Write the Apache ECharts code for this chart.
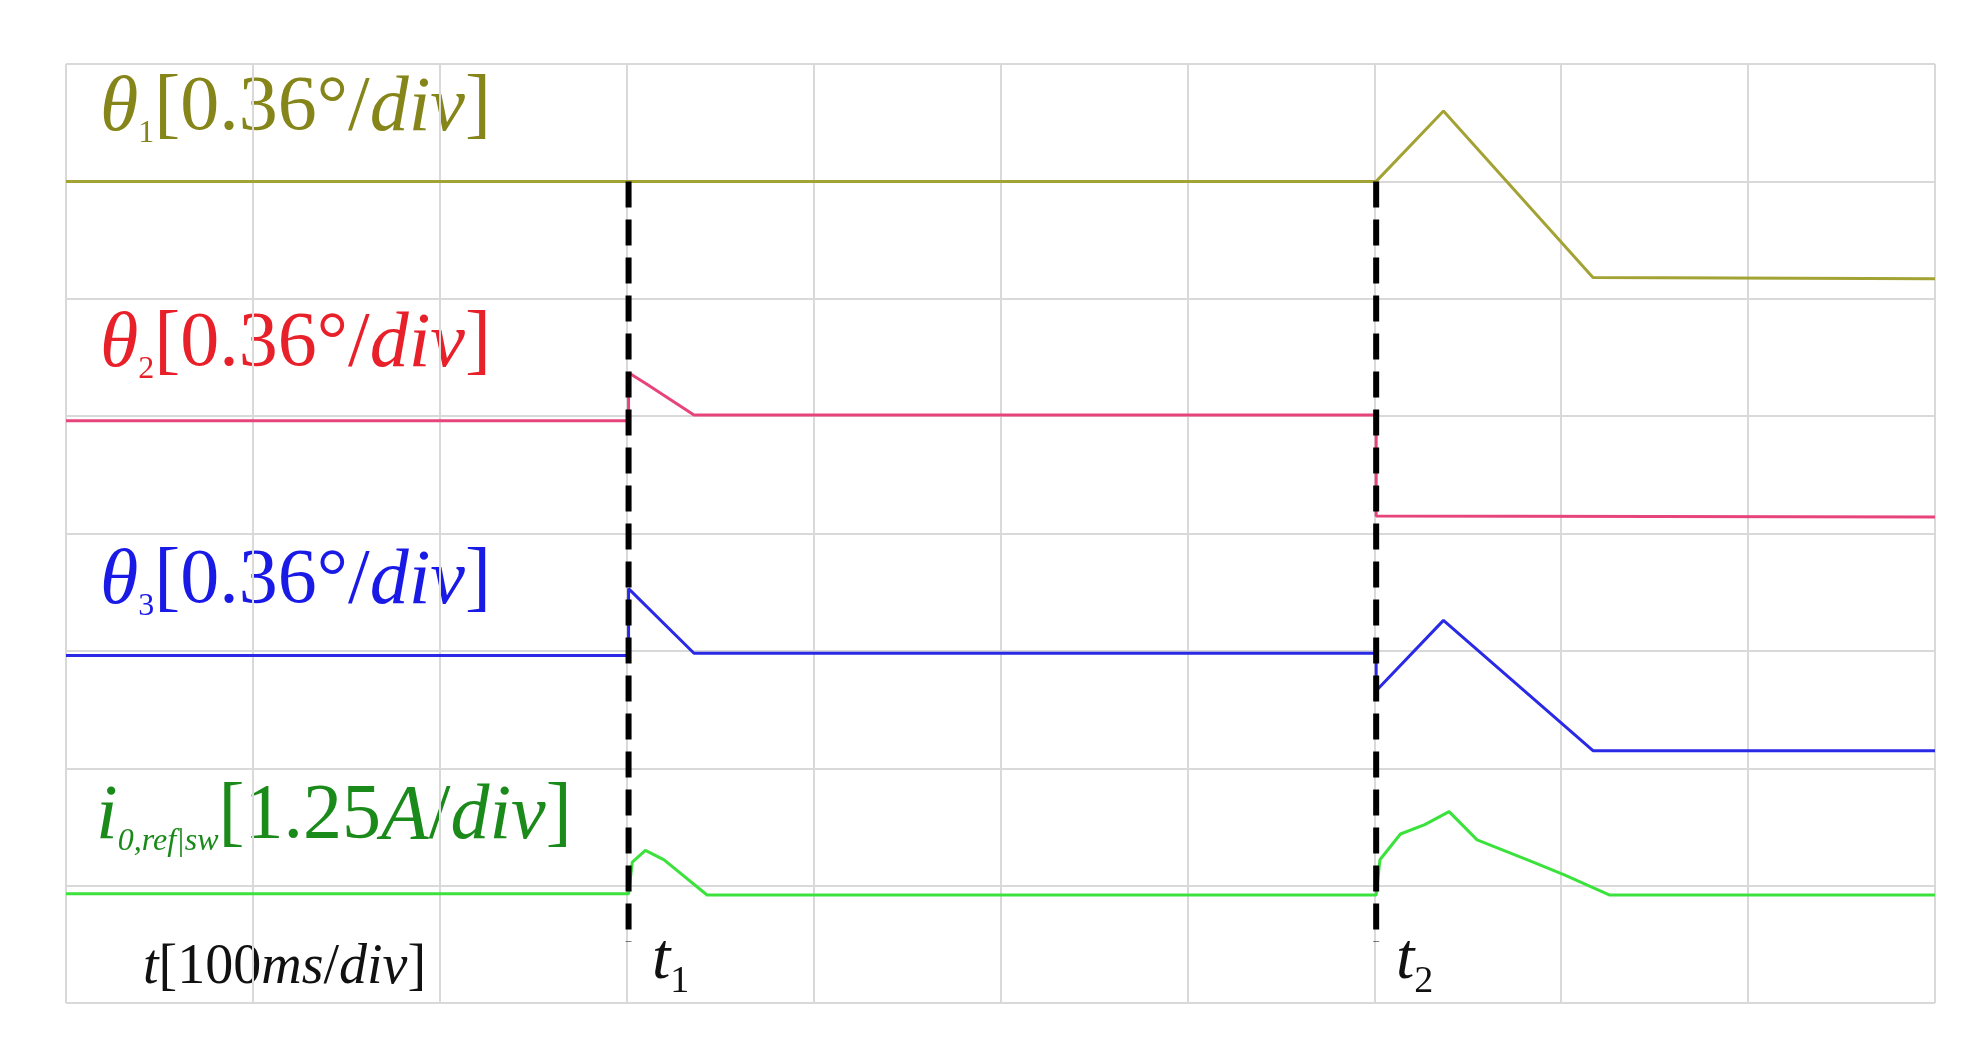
<!DOCTYPE html>
<html>
<head>
<meta charset="utf-8">
<script src="https://cdn.jsdelivr.net/npm/echarts@6/dist/echarts.min.js"></script>
<style>html,body{margin:0;background:#fff}#c{width:1985px;height:1061px}</style>
</head>
<body>
<div id="c"></div>
<script>
// x and y in scope divisions
const t1 = 3.01
const t2 = 7.01
const theta1 = [[0, 7.0], [7.01, 7.0], [7.37, 7.6], [8.17, 6.18], [10, 6.17]]
const theta2 = [[0, 4.96], [3.01, 4.96], [3.01, 5.37], [3.1, 5.28], [3.36, 5.01], [7.01, 5.01], [7.01, 4.15], [10, 4.14]]
const theta3 = [[0, 2.96], [3.01, 2.96], [3.01, 3.53], [3.36, 2.98], [7.01, 2.98], [7.01, 2.66], [7.37, 3.26], [8.17, 2.15], [10, 2.15]]
const current = [[0, 0.93], [3.01, 0.93], [3.03, 1.2], [3.1, 1.3], [3.2, 1.22], [3.43, 0.92], [7.01, 0.92], [7.03, 1.22],
  [7.14, 1.44], [7.27, 1.52], [7.4, 1.63], [7.55, 1.39], [7.82, 1.22], [8.02, 1.09], [8.26, 0.92], [10, 0.92]]

const chart = echarts.init(document.getElementById('c'))
const trace = (data, color) => ({
  type: 'line', data, symbol: 'none', animation: false,
  lineStyle: { color, width: 3 }
})
const marker = t => ({
  type: 'line', data: [[t, 7.0], [t, 0.52]], symbol: 'none', animation: false,
  lineStyle: { color: '#000', width: 6, type: [26, 12] }, z: 5
})
const serif = 'Liberation Serif'
const label = (left, top, parts, color) => ({
  type: 'text', left, top,
  style: {
    text: parts, fill: color, font: '78px ' + serif,
    rich: {
      n: { fontSize: 78, fontFamily: serif, fill: color },
      it: { fontSize: 78, fontFamily: serif, fontStyle: 'italic', fill: color },
      sub: { fontSize: 32, fontFamily: serif, fill: color, padding: [50, 0, 0, 0] },
      subi: { fontSize: 32, fontFamily: serif, fontStyle: 'italic', fill: color, padding: [50, 0, 0, 0] }
    }
  }
})

chart.setOption({
  backgroundColor: '#fff',
  grid: { left: 66, right: 50, top: 64, bottom: 58 },
  xAxis: {
    type: 'value', min: 0, max: 10, interval: 1,
    axisLabel: { show: false }, axisTick: { show: false },
    axisLine: { show: false },
    splitLine: { lineStyle: { color: '#d9d9d9', width: 2 } }
  },
  yAxis: {
    type: 'value', min: 0, max: 8, interval: 1,
    axisLabel: { show: false }, axisTick: { show: false },
    axisLine: { show: false },
    splitLine: { lineStyle: { color: '#d9d9d9', width: 2 } }
  },
  series: [
    trace(theta1, '#a3a335'),
    trace(theta2, '#e8447c'),
    trace(theta3, '#2a2ae6'),
    trace(current, '#3ce23c'),
    marker(t1),
    marker(t2)
  ],
  graphic: [
    label(100, 70, '{it|θ}{sub|1}{n|[0.36°/}{it|div}{n|]}', '#85851a'),
    label(100, 306, '{it|θ}{sub|2}{n|[0.36°/}{it|div}{n|]}', '#e8202a'),
    label(100, 543, '{it|θ}{sub|3}{n|[0.36°/}{it|div}{n|]}', '#1a1ae6'),
    label(96, 778, '{it|i}{subi|0,ref|sw}{n|[1.25}{it|A}{n|/}{it|div}{n|]}', '#1a8a1a'),
    {
      type: 'text', left: 143, top: 940,
      style: {
        text: '{it|t}{n|[100}{it|ms}{n|/}{it|div}{n|]}',
        rich: {
          n: { fontSize: 56, fontFamily: serif, fill: '#111' },
          it: { fontSize: 56, fontFamily: serif, fontStyle: 'italic', fill: '#111' }
        }
      }
    },
    {
      type: 'text', left: 652, top: 928,
      style: {
        text: '{it|t}{sub|1}',
        rich: {
          it: { fontSize: 66, fontFamily: serif, fontStyle: 'italic', fill: '#111' },
          sub: { fontSize: 38, fontFamily: serif, fill: '#111', padding: [42, 0, 0, 0] }
        }
      }
    },
    {
      type: 'text', left: 1396, top: 928,
      style: {
        text: '{it|t}{sub|2}',
        rich: {
          it: { fontSize: 66, fontFamily: serif, fontStyle: 'italic', fill: '#111' },
          sub: { fontSize: 38, fontFamily: serif, fill: '#111', padding: [42, 0, 0, 0] }
        }
      }
    }
  ]
})
</script>
</body>
</html>
